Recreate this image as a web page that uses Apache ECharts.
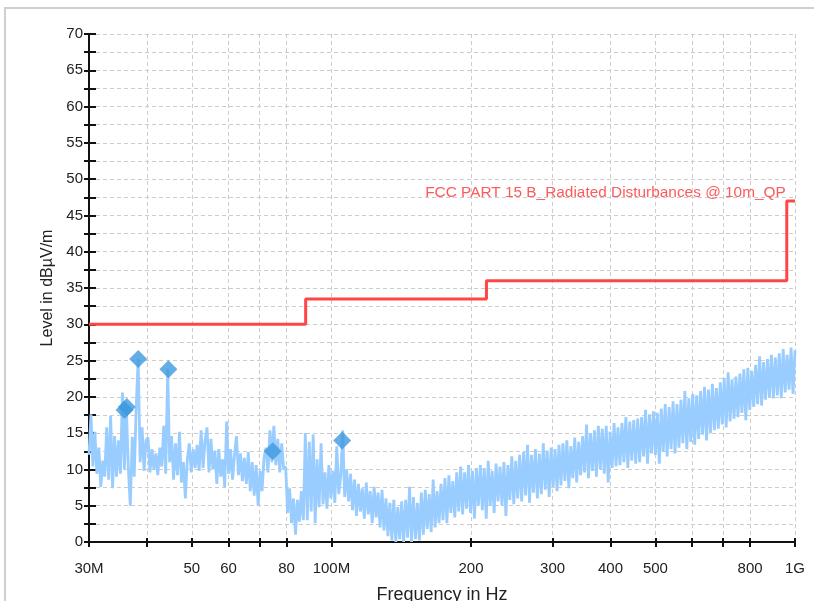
<!DOCTYPE html>
<html><head><meta charset="utf-8">
<script src="https://cdn.jsdelivr.net/npm/echarts@6/dist/echarts.min.js"></script>
<style>html,body{margin:0;padding:0;background:#fff}#c{width:814px;height:601px}</style>
</head><body><div id="c"></div>
<script>
// ---- data (frequencies in MHz, levels in dBµV/m) ----
const tickFreqs = [30, 40, 50, 60, 70, 80, 100, 200, 300, 400, 500, 600, 700, 800, 1000];
const labelFreqs = [30, 50, 60, 80, 100, 200, 300, 400, 500, 800, 1000];
const labelTexts = ['30M', '50', '60', '80', '100M', '200', '300', '400', '500', '800', '1G'];
const limitName = 'FCC PART 15 B_Radiated Disturbances @ 10m_QP';
const limitEdges = [30, 88, 216, 960, 1000];
const limitLevels = [30, 33.5, 36, 47];
const peakFreqs = [35.8, 36.2, 38.3, 44.5, 74.7, 105.5];
const peakLevels = [18.2, 18.6, 25.2, 23.8, 12.5, 14.0];
const sweepStart = 30, sweepStop = 1000;
const traceLevels = [
12.0,17.6,10.4,15.2,9.4,13.0,7.6,11.2,9.0,15.8,
8.6,17.4,7.4,14.6,9.0,14.0,9.4,20.6,10.0,18.6,
10.2,5.0,14.5,9.0,18.6,25.2,11.0,15.8,9.8,14.0,
14.4,9.6,12.8,10.0,12.2,9.2,13.0,10.4,16.0,9.4,
23.8,11.0,14.6,8.6,13.6,9.2,15.2,8.2,11.0,6.0,
11.4,13.6,9.6,12.8,10.2,13.4,9.8,15.4,10.2,14.0,
15.8,9.6,14.2,10.0,12.6,8.0,12.8,9.0,11.4,7.6,
16.6,9.4,12.8,8.6,12.0,14.6,9.2,12.2,8.4,11.6,
8.0,12.4,7.0,11.0,6.4,10.6,5.0,9.8,7.0,11.6,
13.0,9.6,15.4,11.0,16.0,10.6,14.2,9.6,13.6,10.0,
10.4,4.0,7.4,2.6,6.0,1.0,5.8,2.8,7.0,3.0,
15.0,3.0,13.8,4.2,14.8,2.6,11.4,4.8,13.6,5.2,
9.6,4.6,10.6,6.0,9.8,5.4,13.2,6.6,9.0,15.4,
6.2,10.0,5.6,9.4,4.4,8.6,3.6,8.0,4.2,7.4,
3.2,8.2,3.8,7.0,2.6,7.6,3.4,6.8,2.0,7.2,
1.6,6.0,0.8,5.4,0.2,5.8,0.0,4.8,0.4,5.6,
0.0,5.8,0.6,7.6,0.0,6.2,0.4,5.4,0.2,6.8,
1.0,7.2,1.8,6.6,1.4,8.6,2.0,7.0,2.6,8.0,
3.0,8.8,2.6,9.2,4.0,8.4,3.4,9.6,4.2,10.4,
3.8,9.6,4.6,10.6,4.0,9.8,3.2,10.2,5.0,10.6,
4.4,10.2,3.2,11.2,5.0,9.8,4.0,10.8,5.6,10.4,
5.0,11.0,3.6,10.6,5.8,11.8,5.2,11.2,6.0,12.0,
5.6,12.4,6.4,13.4,5.4,12.0,6.8,12.8,6.0,12.2,
6.6,13.6,7.2,12.6,6.2,13.0,7.6,12.8,7.0,13.4,
7.8,13.6,8.4,14.0,7.4,13.2,8.8,14.4,8.2,13.8,
9.2,14.6,9.6,16.2,8.8,15.0,9.8,15.4,9.0,16.0,
10.0,15.6,9.4,16.0,8.2,15.2,10.2,16.4,10.4,15.8,
10.6,16.4,11.0,17.2,10.2,16.6,11.2,16.8,10.8,17.0,
11.0,17.2,11.8,18.2,10.8,17.6,12.2,18.0,12.0,17.8,
10.8,18.4,12.4,19.0,11.8,18.6,12.8,19.4,12.2,19.0,
13.0,19.6,13.6,20.8,12.8,19.8,13.8,20.4,13.4,20.2,
14.2,20.8,14.8,21.4,14.0,21.0,15.0,21.8,15.4,21.2,
15.6,22.0,16.2,22.6,15.8,23.4,16.6,22.4,17.0,22.8,
17.2,23.2,17.8,23.8,16.8,24.0,18.2,23.6,18.6,24.4,
19.0,25.6,18.8,24.8,19.6,25.2,20.0,25.8,19.8,25.4,
20.2,26.0,19.8,26.6,20.6,25.8,21.0,26.8,20.4,26.4
];

// ---- build ----
const lg = Math.log10;
const FONT = '"Liberation Sans", Arial, sans-serif';
const N = traceLevels.length;
const x0 = lg(sweepStart), x1 = lg(sweepStop);
const traceData = traceLevels.map((v, i) => [x0 + i * (x1 - x0) / (N - 1), v]);
const limitData = [];
for (let k = 0; k < limitLevels.length; k++) {
  limitData.push([lg(limitEdges[k]), limitLevels[k]]);
  limitData.push([lg(limitEdges[k + 1]), limitLevels[k]]);
}
const peakData = peakFreqs.map((f, i) => [lg(f), peakLevels[i]]);
function labelFor(v) {
  let best = 0, bd = 1e9;
  labelFreqs.forEach((f, i) => { const d = Math.abs(lg(f) - v); if (d < bd) { bd = d; best = i; } });
  return labelTexts[best];
}
const gridStyle = { type: [4, 3], color: '#cccccc', width: 1 };
const axisCol = '#111';

const chart = echarts.init(document.getElementById('c'), null, { renderer: 'canvas' });
chart.setOption({
  animation: false,
  backgroundColor: '#fff',
  graphic: [{ type: 'rect', shape: { x: 5, y: 8, width: 900, height: 800 },
    style: { fill: 'none', stroke: '#cfcfcf', lineWidth: 2 }, silent: true, z: -10 }],
  grid: { left: 89, right: 19, top: 34, bottom: 59, containLabel: false, outerBoundsMode: 'none' },
  xAxis: [{
    type: 'value', min: x0, max: x1, position: 'bottom',
    axisLine: { show: true, lineStyle: { color: axisCol, width: 2 } },
    axisTick: { show: true, customValues: tickFreqs.map(lg), length: 5, lineStyle: { color: axisCol, width: 2 } },
    axisLabel: { customValues: labelFreqs.map(lg), formatter: labelFor, margin: 19,
      fontSize: 15, color: '#222', fontFamily: FONT },
    splitLine: { show: true, lineStyle: gridStyle },
    name: 'Frequency in Hz', nameLocation: 'middle', nameGap: 44,
    nameTextStyle: { fontSize: 18, color: '#222', fontFamily: FONT }
  }, {
    type: 'value', min: x0, max: x1, position: 'bottom', offset: 0,
    axisLine: { show: false },
    axisTick: { show: true, inside: true, customValues: tickFreqs.map(lg), length: 4, lineStyle: { color: axisCol, width: 2 } },
    axisLabel: { show: false }, splitLine: { show: false }
  }],
  yAxis: [{
    type: 'value', min: 0, max: 70, interval: 5, position: 'left',
    axisLine: { show: true, lineStyle: { color: axisCol, width: 2 } },
    axisTick: { show: true, length: 5, lineStyle: { color: axisCol, width: 2 } },
    minorTick: { show: true, splitNumber: 2, length: 5, lineStyle: { color: axisCol, width: 2 } },
    splitLine: { show: true, lineStyle: gridStyle },
    minorSplitLine: { show: true, lineStyle: gridStyle },
    axisLabel: { margin: 6, fontSize: 15, color: '#222', fontFamily: FONT },
    name: 'Level in dBµV/m', nameLocation: 'middle', nameGap: 32,
    nameTextStyle: { fontSize: 16, color: '#222', fontFamily: FONT }
  }, {
    type: 'value', min: 0, max: 70, interval: 5, position: 'left', offset: 0,
    axisLine: { show: false },
    axisTick: { show: true, inside: true, length: 7, lineStyle: { color: axisCol, width: 2 } },
    minorTick: { show: true, splitNumber: 2, length: 7, lineStyle: { color: axisCol, width: 2 } },
    splitLine: { show: false }, minorSplitLine: { show: false },
    axisLabel: { show: false }
  }],
  series: [{
    name: 'trace', type: 'line', data: traceData, showSymbol: false, symbol: 'none',
    lineStyle: { color: '#99ccff', width: 2.8, join: 'miter', miterLimit: 2 }, z: 2, sampling: null
  }, {
    name: 'limit', type: 'line', data: limitData, showSymbol: false, symbol: 'none',
    lineStyle: { color: '#ff4646', width: 3 }, z: 3,
    markPoint: {
      symbol: 'circle', symbolSize: 0, silent: true,
      data: [{ coord: [lg(limitEdges[3]), limitLevels[3]] }],
      label: { show: true, position: 'left', distance: 1, offset: [0, -8], formatter: limitName,
        color: '#ff5a5a', fontSize: 15.4, fontFamily: FONT }
    }
  }, {
    name: 'peaks', type: 'scatter', data: peakData, symbol: 'diamond', symbolSize: 18,
    itemStyle: { color: '#3d98de' }, z: 4
  }]
});
</script></body></html>
